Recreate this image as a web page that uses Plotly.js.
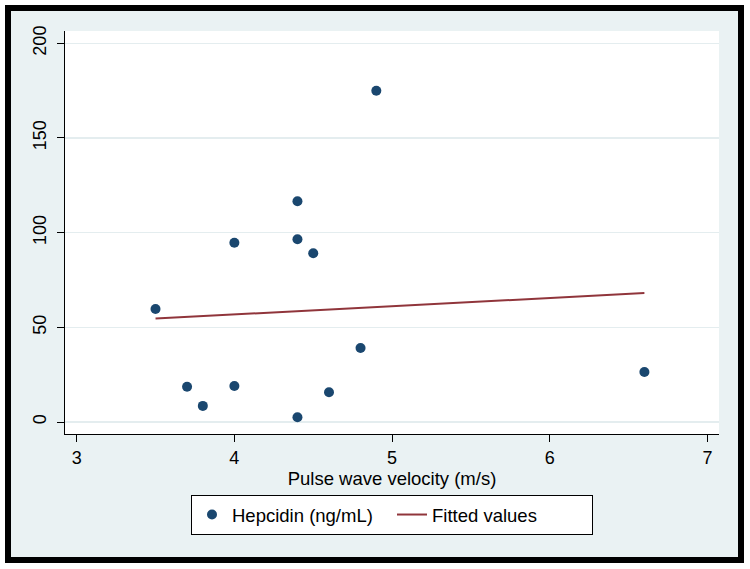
<!DOCTYPE html>
<html>
<head>
<meta charset="utf-8">
<script src="https://cdn.plot.ly/plotly-3.0.1.min.js"></script>
<style>html,body{margin:0;padding:0;background:#fff;}#chart{width:750px;height:569px;}</style>
</head>
<body>
<div id="chart"></div>
<script>
// Data
var pwv = [3.5, 3.7, 3.8, 4.0, 4.0, 4.4, 4.4, 4.4, 4.5, 4.6, 4.8, 4.9, 6.6];
var hepcidin = [59.7, 18.6, 8.5, 19.0, 94.7, 116.6, 96.5, 2.5, 89.1, 15.7, 39.1, 174.9, 26.4];
var fitX = [3.5, 6.6];
var fitY = [54.6, 68.1];
var xTicks = [3, 4, 5, 6, 7];
var yTicks = [0, 50, 100, 150, 200];

// Layout geometry (pixels)
var L = 65, R = 719, T = 31, B = 434, W = 750, H = 569;
var pw = R - L, ph = B - T;
function px(x) { return (x - L) / pw; }
function py(y) { return (B - y) / ph; }

var font = 'Liberation Sans, Arial, Helvetica, sans-serif';

var traces = [
  {
    x: pwv, y: hepcidin, type: 'scatter', mode: 'markers',
    name: 'Hepcidin (ng/mL)',
    marker: { color: '#1a476f', size: 10 }
  },
  {
    x: fitX, y: fitY, type: 'scatter', mode: 'lines',
    name: 'Fitted values',
    line: { color: '#90353b', width: 2 }
  }
];

var layout = {
  width: W, height: H,
  margin: { l: L, r: W - R, t: T, b: H - B, pad: 0 },
  paper_bgcolor: '#ffffff',
  plot_bgcolor: '#ffffff',
  font: { family: font, color: '#000000', size: 18 },
  showlegend: true,
  xaxis: {
    range: [2.926, 7.073],
    tickvals: xTicks, ticktext: xTicks.map(String),
    ticks: 'outside', ticklen: 7, tickwidth: 1, tickcolor: '#000',
    showline: true, linecolor: '#000', linewidth: 1,
    showgrid: false, zeroline: false,
    tickfont: { size: 18 },
    title: { text: 'Pulse wave velocity (m/s)', font: { size: 18.5 }, standoff: 0 },
    automargin: false
  },
  yaxis: {
    range: [-6.34, 206.5],
    tickvals: yTicks, ticktext: yTicks.map(String),
    tickangle: -90,
    ticks: 'outside', ticklen: 7, tickwidth: 1, tickcolor: '#000',
    ticklabelstandoff: 4,
    showline: true, linecolor: '#000', linewidth: 1,
    showgrid: true, gridcolor: '#e4edef', gridwidth: 1.5,
    zeroline: false,
    tickfont: { size: 18 },
    automargin: false
  },
  legend: {
    orientation: 'h',
    x: 0.5, xanchor: 'center',
    y: py(495), yanchor: 'top',
    bgcolor: '#ffffff', bordercolor: '#000000', borderwidth: 1,
    font: { size: 18.5 },
    entrywidth: 155
  },
  shapes: [
    {
      type: 'rect', xref: 'paper', yref: 'paper', layer: 'below',
      x0: px(8), x1: px(741), y0: py(560), y1: py(8),
      fillcolor: '#eaf2f3', line: { color: '#000000', width: 6 }
    },
    {
      type: 'rect', xref: 'paper', yref: 'paper', layer: 'below',
      x0: 0, x1: 1, y0: 0, y1: 1,
      fillcolor: '#ffffff', line: { width: 0 }
    }
  ]
};

Plotly.newPlot('chart', traces, layout, { displayModeBar: false, staticPlot: true });
</script>
</body>
</html>
